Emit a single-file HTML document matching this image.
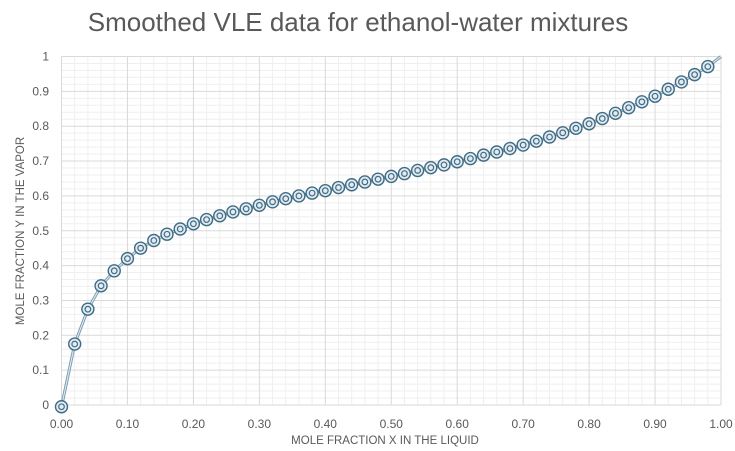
<!DOCTYPE html>
<html><head><meta charset="utf-8"><style>
html,body{margin:0;padding:0;background:#fff;width:735px;height:451px;overflow:hidden}
svg{display:block;font-family:"Liberation Sans",sans-serif}
</style></head><body>
<svg id="s" width="735" height="451" xmlns="http://www.w3.org/2000/svg">
<text x="358" y="31" font-size="26" fill="#595959" text-anchor="middle">Smoothed VLE data for ethanol-water mixtures</text>
<g id="grid"></g>
<g id="plot"></g>
<text x="385" y="444" font-size="11.5" fill="#595959" text-anchor="middle">MOLE FRACTION  X IN THE LIQUID</text>
<text transform="translate(24,231) rotate(-90)" font-size="11.5" fill="#595959" text-anchor="middle">MOLE FRACTION Y IN THE VAPOR</text>
</svg>
<script>
const L=61.5,R=721,T=56.5,B=405,W=R-L,H=B-T;
const X=v=>L+v*W,Y=v=>B-v*H;
let g="";
for(let i=0;i<=50;i++){const x=X(i/50);if(i%5)g+=`<line x1="${x}" y1="${T}" x2="${x}" y2="${B}" stroke="#efefef" stroke-width="1"/>`;}
for(let i=0;i<=50;i++){const y=Y(i/50);if(i%5)g+=`<line x1="${L}" y1="${y}" x2="${R}" y2="${y}" stroke="#efefef" stroke-width="1"/>`;}
for(let i=0;i<=10;i++){const x=X(i/10),y=Y(i/10);
g+=`<line x1="${x}" y1="${T}" x2="${x}" y2="${B}" stroke="#d9d9d9" stroke-width="1"/>`;
g+=`<line x1="${L}" y1="${y}" x2="${R}" y2="${y}" stroke="#d9d9d9" stroke-width="1"/>`;
g+=`<text x="${x}" y="428" font-size="12" fill="#595959" text-anchor="middle">${(i/10).toFixed(2)}</text>`;
g+=`<text x="49" y="${y+4}" font-size="12" fill="#595959" text-anchor="end">${i==0?"0":i==10?"1":(i/10).toFixed(1)}</text>`;}
document.getElementById("grid").innerHTML=g;
const yv=[-0.005,0.175,0.275,0.342,0.385,0.42,0.45,0.472,0.49,0.505,0.52,0.532,0.543,0.554,0.563,0.573,0.583,0.592,0.6,0.608,0.615,0.624,0.632,0.64,0.648,0.656,0.664,0.673,0.681,0.689,0.698,0.707,0.717,0.726,0.736,0.746,0.757,0.769,0.781,0.794,0.807,0.822,0.837,0.853,0.87,0.886,0.906,0.927,0.948,0.971];
let pts=yv.map((v,i)=>[X(i*0.02),Y(v)]);pts.push([X(1),Y(1)]);
let d="M"+pts.map(p=>p[0].toFixed(1)+","+p[1].toFixed(1)).join(" L");
let p=`<path d="${d}" fill="none" stroke="#7c9db2" stroke-width="3" stroke-linejoin="round"/><path d="${d}" fill="none" stroke="#e6eef3" stroke-width="1" stroke-linejoin="round"/>`;
for(let i=0;i<yv.length;i++){const [x,y]=pts[i];
p+=`<circle cx="${x}" cy="${y}" r="6" fill="#e3ebf0" stroke="#3f6c86" stroke-width="1.4"/><circle cx="${x}" cy="${y}" r="2.8" fill="none" stroke="#3f6c86" stroke-width="1.2"/>`;}
document.getElementById("plot").innerHTML=p;
</script>
</body></html>
